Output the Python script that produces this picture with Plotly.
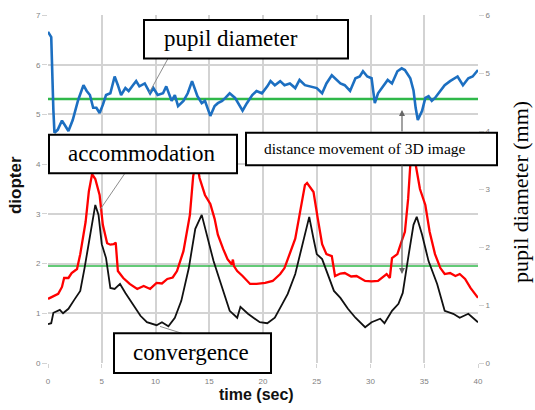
import plotly.graph_objects as go

# ---------------- data ----------------
acc_t = [0, 0.65, 0.95, 1.3, 1.5, 1.9, 2.2, 2.7, 3.0, 3.5, 3.8, 4.1, 4.4, 4.8, 5.1, 5.5, 5.8, 6.1, 6.3,
         6.5, 7.0, 7.6, 8.3, 8.9, 9.5, 10.1, 10.6, 11.1, 11.6, 12.0, 12.6, 13.2, 13.5, 13.8, 14.1, 14.6,
         15.1, 15.5, 15.8, 16.3, 16.7, 17.1, 17.2, 17.3, 17.6, 18.1, 18.8, 19.4, 20.2, 20.9, 21.6, 22.0,
         22.5, 23.0, 23.4, 23.9, 24.1, 24.4, 24.7, 25.1, 25.5, 25.9, 26.4, 26.7, 27.2, 27.6, 28.2, 28.7,
         29.5, 30.1, 30.7, 31.5, 31.8, 32.0, 32.5, 32.9, 33.2, 33.5, 33.7, 33.95, 34.2, 34.6, 35.1, 35.5,
         36.0, 36.5, 36.9, 37.4, 37.9, 38.3, 38.8, 39.3, 40]
acc_v = [1.29, 1.37, 1.39, 1.53, 1.71, 1.71, 1.81, 1.89, 2.19, 2.84, 3.45, 3.8, 3.7, 3.38, 2.78, 2.41, 2.38,
         2.39, 2.42, 1.85, 1.71, 1.59, 1.49, 1.55, 1.49, 1.61, 1.6, 1.69, 1.72, 1.85, 2.25, 2.98, 3.75, 4.1,
         3.72, 3.38, 3.2, 2.9, 2.58, 2.29, 2.09, 1.98, 2.08, 1.95, 1.85, 1.75, 1.59, 1.59, 1.61, 1.65, 1.79,
         1.91, 2.19, 2.5, 2.98, 3.58, 3.62, 3.52, 3.44, 2.9, 2.39, 2.19, 2.15, 1.75, 1.8, 1.81, 1.74, 1.75,
         1.65, 1.64, 1.65, 1.79, 1.71, 2.11, 2.19, 2.45, 2.64, 3.3, 3.98, 4.3, 3.98, 3.5, 3.18, 2.64, 2.19,
         1.91, 1.79, 1.81, 1.75, 1.79, 1.69, 1.51, 1.31]

con_t = [0, 0.3, 0.5, 1.1, 1.4, 1.9, 2.5, 3.0, 3.4, 3.9, 4.4, 4.7, 5.0, 5.4, 5.8, 6.2, 6.7, 7.2, 7.8, 8.6,
         9.2, 10.1, 10.6, 11.2, 11.8, 12.4, 13.1, 13.7, 14.3, 14.8, 15.4, 16.0, 16.9, 17.6, 17.9, 18.6,
         19.1, 19.7, 20.4, 21.1, 21.8, 22.3, 23.0, 23.6, 24.3, 24.7, 25.0, 25.5, 25.9, 26.4, 26.6, 27.2,
         27.9, 28.6, 29.5, 30.1, 30.9, 31.3, 32.0, 32.6, 33.0, 33.5, 34.0, 34.3, 34.8, 35.4, 36.2, 36.9,
         37.7, 38.3, 39.1, 40]
con_v = [0.78, 0.80, 1.01, 1.07, 1.0, 1.09, 1.29, 1.45, 1.91, 2.58, 3.18, 2.98, 2.39, 2.11, 1.51, 1.49, 1.59,
         1.41, 1.21, 0.95, 0.82, 0.76, 0.82, 0.74, 0.91, 1.25, 1.91, 2.7, 2.98, 2.58, 2.05, 1.65, 1.05, 0.91,
         1.13, 0.99, 0.91, 0.82, 0.80, 0.91, 1.19, 1.39, 1.79, 2.31, 2.94, 2.5, 2.19, 2.09, 1.85, 1.59, 1.45,
         1.31, 1.09, 0.91, 0.72, 0.82, 0.89, 0.80, 1.05, 1.19, 1.41, 2.11, 2.78, 2.94, 2.58, 2.05, 1.59, 1.05,
         0.99, 0.91, 0.99, 0.82]

pup_t = [0, 0.3, 0.5, 0.6, 0.9, 1.3, 1.6, 1.9, 2.3, 2.8, 3.3, 3.6, 3.9, 4.2, 4.5, 4.8, 5.1, 5.4, 5.8, 6.2,
         6.5, 6.8, 7.2, 7.5, 7.9, 8.2, 8.5, 9.0, 9.5, 9.8, 10.2, 10.7, 11.0, 11.5, 11.8, 12.1, 12.6, 13.0,
         13.4, 13.9, 14.3, 14.6, 15.1, 15.5, 15.8, 16.2, 16.5, 16.9, 17.4, 17.7, 18.1, 18.5, 19.0, 19.4,
         19.9, 20.4, 20.7, 21.1, 21.6, 22.0, 22.5, 23.0, 23.4, 23.9, 24.4, 25.0, 25.5, 25.9, 26.4, 26.7,
         27.2, 27.6, 28.1, 28.6, 29.0, 29.3, 29.7, 30.1, 30.4, 30.7, 31.2, 31.6, 32.0, 32.5, 32.9, 33.2,
         33.7, 34.0, 34.2, 34.4, 34.8, 35.1, 35.4, 35.7, 36.0, 36.5, 36.9, 37.4, 37.9, 38.1, 38.6, 39.1,
         39.5, 40]
pup_v = [5.71, 5.62, 4.36, 3.97, 4.02, 4.18, 4.09, 4.0, 4.19, 4.53, 4.79, 4.69, 4.62, 4.4, 4.4, 4.31, 4.45,
         4.62, 4.65, 4.94, 4.79, 4.62, 4.74, 4.69, 4.79, 4.86, 4.77, 4.82, 4.65, 4.74, 4.62, 4.65, 4.77, 4.52,
         4.62, 4.43, 4.52, 4.65, 4.86, 4.6, 4.48, 4.52, 4.26, 4.43, 4.48, 4.52, 4.57, 4.65, 4.57, 4.48, 4.35,
         4.48, 4.62, 4.69, 4.65, 4.77, 4.86, 4.79, 4.86, 4.79, 4.82, 4.74, 4.88, 4.79, 4.77, 4.74, 4.65, 4.82,
         4.96, 4.91, 4.82, 4.79, 4.69, 4.91, 4.94, 5.03, 4.94, 4.91, 4.48, 4.65, 4.77, 4.88, 4.82, 5.03, 5.08,
         5.05, 4.91, 4.7, 4.4, 4.19, 4.35, 4.57, 4.6, 4.52, 4.57, 4.69, 4.79, 4.86, 4.91, 4.94, 4.79, 4.91,
         4.94, 5.05]

green_levels = [5.31, 1.95]
x_ticks = [0, 5, 10, 15, 20, 25, 30, 35, 40]
left_ticks = [0, 1, 2, 3, 4, 5, 6, 7]
right_ticks = [0, 1, 2, 3, 4, 5, 6]

# ---------------- geometry helpers (layout only) ----------------
W, H = 535, 410
L, R, T, B = 48, 478, 11, 363


def px(xp):
    return (xp - L) / (R - L)


def py(yp):
    return (B - yp) / (B - T)


fig = go.Figure()

fig.add_trace(go.Scatter(x=[0, 40], y=[green_levels[0]] * 2, mode="lines",
                         line=dict(color="#2fb84a", width=2.5), hoverinfo="skip"))
fig.add_trace(go.Scatter(x=[0, 40], y=[green_levels[1]] * 2, mode="lines",
                         line=dict(color="#2fb84a", width=1.6), hoverinfo="skip"))
fig.add_trace(go.Scatter(x=pup_t, y=pup_v, mode="lines", yaxis="y2",
                         line=dict(color="#1c6fc1", width=2.6), name="pupil diameter"))
fig.add_trace(go.Scatter(x=acc_t, y=acc_v, mode="lines",
                         line=dict(color="#ff0000", width=2.3), name="accommodation"))
fig.add_trace(go.Scatter(x=con_t, y=con_v, mode="lines",
                         line=dict(color="#111111", width=1.8), name="convergence"))

tickfont = dict(family="Liberation Sans", size=8, color="#7f7f7f")
gridc = "#d3d3d3"

fig.update_layout(
    width=W, height=H,
    margin=dict(l=L, r=W - R, t=T, b=H - B),
    paper_bgcolor="white", plot_bgcolor="white",
    showlegend=False,
    xaxis=dict(range=[0, 40], tickvals=x_ticks, showgrid=True, gridcolor=gridc, gridwidth=1.5,
               zeroline=False, showline=False, ticks="outside", ticklen=4, tickcolor=gridc,
               tickfont=tickfont, ticklabelstandoff=6),
    yaxis=dict(range=[0, 7], tickvals=left_ticks, showgrid=True, gridcolor=gridc, gridwidth=1.5,
               zeroline=False, showline=False, ticks="outside", ticklen=5, tickcolor=gridc,
               tickfont=tickfont),
    yaxis2=dict(range=[0, 6], tickvals=right_ticks, overlaying="y", side="right", showgrid=False,
                zeroline=False, showline=False, ticks="outside", ticklen=5, tickcolor=gridc,
                tickfont=tickfont),
)

shapes = []
# leader lines
for (x0, y0, x1, y1) in [(168, 55, 149, 90), (125, 171, 100, 208), (160, 326, 182, 333)]:
    shapes.append(dict(type="line", xref="paper", yref="paper", x0=px(x0), y0=py(y0), x1=px(x1), y1=py(y1),
                       line=dict(color="#8c8c8c", width=1), layer="above"))
# boxes
boxes = [(144, 16, 348, 55), (49, 132, 237, 171), (246, 130, 497, 163), (114, 333, 271, 373)]
for (x0, y0, x1, y1) in boxes:
    shapes.append(dict(type="rect", xref="paper", yref="paper", x0=px(x0), y0=py(y0), x1=px(x1), y1=py(y1),
                       fillcolor="white", line=dict(color="black", width=2), layer="above"))
fig.update_layout(shapes=shapes)

serif = "Liberation Serif"
labels = [("pupil diameter", 162, 35, 23), ("accommodation", 66, 151, 23),
          ("distance movement of 3D image", 262, 146, 15.5), ("convergence", 131, 352, 23)]
for txt, xl, yc, fs in labels:
    fig.add_annotation(text=txt, xref="paper", yref="paper", x=px(xl), y=py(yc), xanchor="left",
                       yanchor="middle", showarrow=False, font=dict(family=serif, size=fs, color="black"))

# arrows for distance movement
fig.add_annotation(x=px(402), y=py(107), xref="paper", yref="paper", ax=0, ay=23, text="",
                   showarrow=True, arrowhead=2, arrowsize=1, arrowwidth=1.2, arrowcolor="#666666")
fig.add_annotation(x=px(402), y=py(273), xref="paper", yref="paper", ax=0, ay=-110, text="",
                   showarrow=True, arrowhead=2, arrowsize=1, arrowwidth=1.2, arrowcolor="#666666")

# axis titles
fig.add_annotation(text="<b>diopter</b>", xref="paper", yref="paper", x=px(15), y=py(183),
                   xanchor="center", yanchor="middle",
                   textangle=-90, showarrow=False, font=dict(family="Liberation Sans", size=17, color="#111"))
fig.add_annotation(text="<b>time (sec)</b>", xref="paper", yref="paper", x=px(256), y=py(395),
                   xanchor="center", yanchor="middle",
                   showarrow=False, font=dict(family="Liberation Sans", size=16, color="#111"))
fig.add_annotation(text="pupil diameter (mm)", xref="paper", yref="paper", x=px(521), y=py(190),
                   xanchor="center", yanchor="middle",
                   textangle=-90, showarrow=False, font=dict(family=serif, size=22, color="black"))

fig.write_html("out.html")
